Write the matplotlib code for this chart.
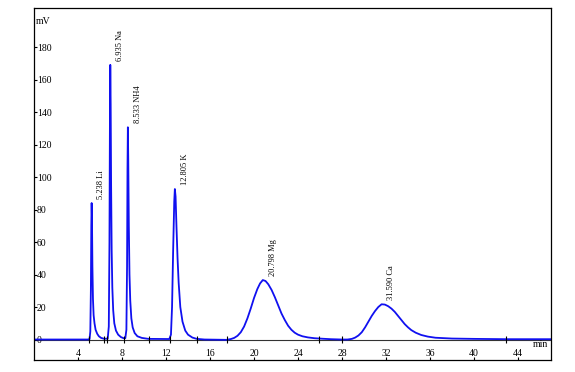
import matplotlib
matplotlib.use("Agg")
import matplotlib.pyplot as plt

# ---- data ----
time_min = [0.0, 4.9, 5.05, 5.12, 5.17, 5.21, 5.24, 5.27, 5.31, 5.36, 5.42, 5.5, 5.6, 5.75, 5.9, 6.1, 6.35,
            6.7, 6.8, 6.86, 6.9, 6.935, 6.97, 7.01, 7.06, 7.12, 7.2, 7.3, 7.45, 7.65, 7.9, 8.15,
            8.3, 8.4, 8.46, 8.5, 8.533, 8.57, 8.62, 8.68, 8.75, 8.85, 8.97, 9.15, 9.4, 9.8, 10.4,
            12.3, 12.45, 12.55, 12.65, 12.75, 12.805, 12.87, 12.95, 13.05, 13.15, 13.3, 13.5, 13.75, 14.0, 14.4, 14.8, 15.5, 17.5,
            17.9, 18.2, 18.5, 18.8, 19.1, 19.4, 19.7, 20.0, 20.3, 20.55, 20.8, 21.05, 21.3, 21.6, 21.9, 22.2, 22.5,
            22.8, 23.1, 23.4, 23.7, 24.0, 24.4, 24.9, 25.5, 26.2, 27.0, 28.0,
            28.5, 28.9, 29.2, 29.5, 29.8, 30.1, 30.4, 30.7, 31.0, 31.3, 31.6, 31.9, 32.2, 32.5, 32.8, 33.1, 33.4,
            33.7, 34.0, 34.3, 34.7, 35.2, 35.8, 36.5, 38.0, 40.0, 43.0, 47.0]
signal_mv = [0.0, 0.0, 0.3, 5, 30, 70, 84, 75, 45, 25, 15, 10, 6, 3.5, 2, 1, 0.5,
             0.5, 8, 60, 130, 169, 145, 95, 55, 32, 18, 10, 5.5, 3, 1.5, 0.8,
             0.8, 6, 45, 105, 130.6, 110, 70, 40, 24, 13, 7.5, 4, 2, 1, 0.4,
             0.3, 3, 20, 55, 85, 92.6, 88, 70, 50, 35, 20, 11, 5.5, 3, 1.2, 0.4, 0.0, -0.2,
             0.3, 1.0, 2.3, 4.5, 8, 13, 19, 25.5, 31, 34.5, 36.6, 36, 34, 30.5, 26, 21, 16,
             12, 8.5, 6, 4.2, 3, 2, 1.3, 0.8, 0.5, 0.2, 0.0,
             0.0, 0.4, 1.2, 2.5, 4.5, 7.5, 11, 14.5, 17.5, 20, 21.7, 21.5, 20.5, 19, 17, 14.5, 12,
             9.5, 7.5, 5.8, 4.2, 2.8, 1.8, 1.1, 0.6, 0.4, 0.2, 0.2]

peak_times = [5.238, 6.935, 8.533, 12.805, 20.798, 31.590]
peak_heights = [84, 169, 130.6, 92.6, 36.6, 21.7]
peak_labels = ["5.238 Li", "6.935 Na", "8.533 NH4", "12.805 K", "20.798 Mg", "31.590 Ca"]

marker_times = [5.0, 6.33, 6.6, 8.18, 10.45, 12.4, 14.8, 17.5, 25.9, 28.0, 42.9]

x_ticks = [4, 8, 12, 16, 20, 24, 28, 32, 36, 40, 44]
y_ticks = [0, 20, 40, 60, 80, 100, 120, 140, 160, 180]

# ---- figure ----
plt.rcParams['font.family'] = ['Liberation Serif', 'DejaVu Serif']
fig = plt.figure(figsize=(5.75, 3.72), dpi=100)
ax = fig.add_axes([34 / 575, 1 - 360 / 372, 517 / 575, 352 / 372])

ax.plot([0, 47], [0, 0], color='#333333', lw=0.8, zorder=1)
ax.plot(time_min, signal_mv, color='#1010f0', lw=1.3, zorder=2)
ax.vlines(marker_times, -2.2, 2.2, color='black', lw=0.8, zorder=3)

for t, h, lab in zip(peak_times, peak_heights, peak_labels):
    ax.annotate(lab, xy=(t, h), xytext=(7, 3), textcoords='offset points',
                rotation=90, ha='center', va='bottom', fontsize=6)

ax.set_xlim(0, 47)
ax.set_ylim(-12.6, 204)
ax.set_xticks(x_ticks)
ax.set_yticks(y_ticks)
ax.tick_params(axis='both', direction='in', length=2.5, width=0.8, labelsize=7)
ax.tick_params(axis='y', pad=-2)
ax.tick_params(axis='x', pad=-1.5)
for lab in ax.get_yticklabels():
    lab.set_horizontalalignment('left')
for lab in ax.get_xticklabels():
    lab.set_verticalalignment('bottom')

ax.text(0.003, 0.975, "mV", transform=ax.transAxes, ha='left', va='top', fontsize=7)
ax.text(0.995, 0.03, "min", transform=ax.transAxes, ha='right', va='bottom', fontsize=7)

for s in ax.spines.values():
    s.set_linewidth(0.9)

fig.savefig("out.png", dpi=100)
